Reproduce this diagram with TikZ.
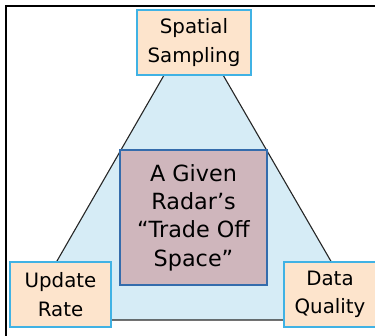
\documentclass[tikz,border=0pt]{standalone}
\usepackage{fontspec}
\setmainfont{DejaVu Sans}
\definecolor{peach}{RGB}{253,228,204}
\definecolor{cyanrim}{RGB}{64,178,228}
\definecolor{triblue}{RGB}{214,236,246}
\definecolor{mauve}{RGB}{207,182,188}
\definecolor{steelrim}{RGB}{52,108,172}
\tikzset{
  corner/.style={draw=cyanrim,fill=peach,line width=1.4pt,align=center,inner sep=0pt,
    font=\fontsize{19.8}{28.3}\selectfont},
  core/.style={draw=steelrim,fill=mauve,line width=1.2pt,align=center,inner sep=0pt,
    font=\fontsize{22.3}{28.3}\selectfont}
}
\begin{document}
\begin{tikzpicture}[x=1pt,y=-1pt]
\path[use as bounding box] (0,0) rectangle (375,336);
\clip (0,0) rectangle (375,336);
\draw[line width=2pt] (6,345) -- (6,6) -- (385,6);
% the trade off triangle
\coordinate (apex) at (193.5,24);
\coordinate (bl) at (23,320);
\coordinate (br) at (365,320);
\filldraw[fill=triblue,draw=black!85,line width=1.1pt] (apex) -- (bl) -- (br) -- cycle;
\node[core,minimum width=147pt,minimum height=135pt] (space) at (193.5,217.5) {A Given\\Radar’s\\“Trade Off\\Space”};
\node[corner,minimum width=114pt,minimum height=65pt] (spatial) at (194,42.5) {Spatial\\Sampling};
\node[corner,minimum width=101pt,minimum height=65pt] (update) at (60.5,294.5) {Update\\Rate};
\node[corner,minimum width=92pt,minimum height=65pt] (quality) at (330,294.5) {Data\\Quality};
\end{tikzpicture}
\end{document}
